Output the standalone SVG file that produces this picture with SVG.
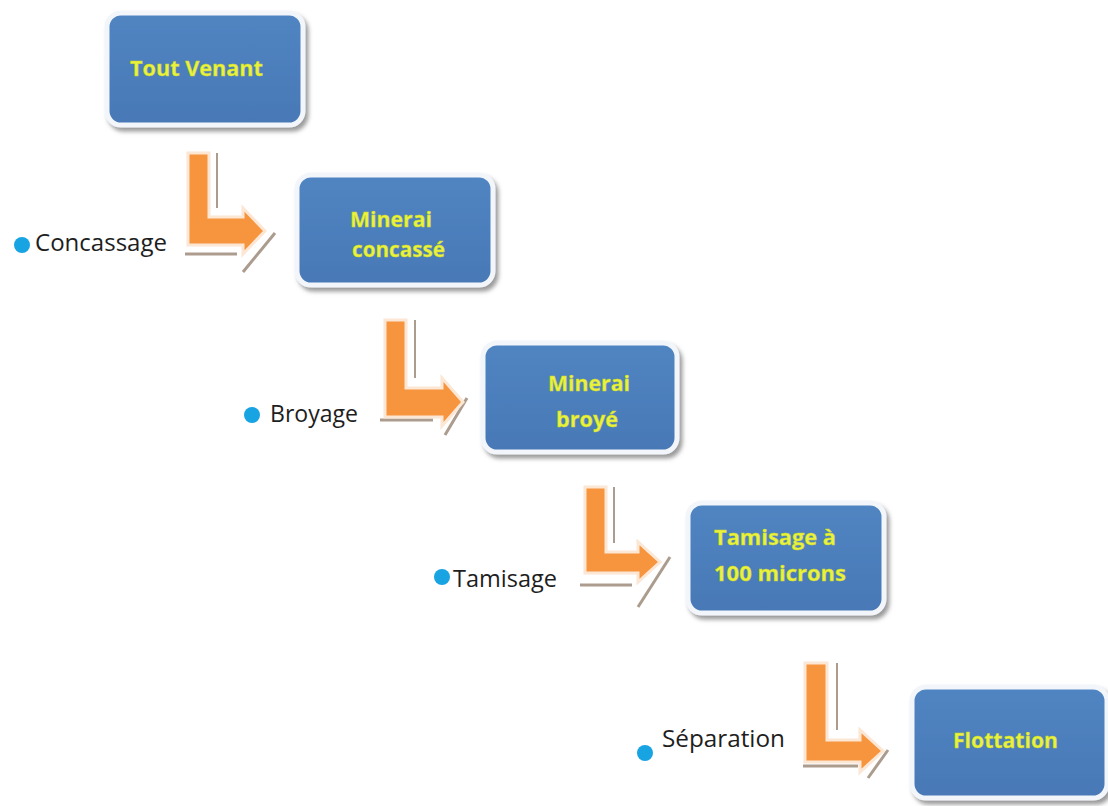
<svg xmlns="http://www.w3.org/2000/svg" width="1108" height="806" viewBox="0 0 1108 806">
<defs>
<filter id="sh" x="-10%" y="-10%" width="125%" height="130%">
<feDropShadow dx="3" dy="4" stdDeviation="2" flood-color="#707070" flood-opacity="0.7"/>
</filter>
<linearGradient id="bg" x1="0" y1="0" x2="0" y2="1">
<stop offset="0" stop-color="#5085c2"/>
<stop offset="1" stop-color="#4878b6"/>
</linearGradient>
</defs>
<style>
.box{fill:url(#bg);stroke:#f2f6fb;stroke-width:5;filter:url(#sh)}
.bt{font-family:"Open Sans","Liberation Sans",sans-serif;font-weight:700;font-size:22px;fill:#e9f23c;stroke:#c9d22a;stroke-width:0.4}
.lb{font-family:"Open Sans","Liberation Sans",sans-serif;font-size:23px;fill:#1e1e1e}
.dot{fill:#18a3e2}
.arr{fill:#f7953f;stroke:#fce6d4;stroke-width:3;stroke-linejoin:miter}
.sd{stroke:#ab9c8e;stroke-width:3;fill:none}
.sd2{stroke:#ab9c8e;stroke-width:2;fill:none}
</style>
<rect width="1108" height="806" fill="#ffffff"/>

<g id="connectors">
<g id="arrow1">
<line class="sd2" x1="217" y1="153" x2="217" y2="208"/>
<line class="sd" x1="185" y1="254" x2="237" y2="254"/>
<line class="sd" x1="275" y1="233" x2="243" y2="272"/>
<polygon class="arr" points="188,153 209,153 209,217 243,217 243,208 265,231 243,254 243,245 188,245"/>
</g>
<g id="arrow2">
<line class="sd2" x1="415" y1="320" x2="415" y2="378"/>
<line class="sd" x1="380" y1="420" x2="433" y2="420"/>
<line class="sd" x1="467" y1="398" x2="445" y2="435"/>
<polygon class="arr" points="385,320 406,320 406,388 442,388 442,378 463,402 442,426 442,417 385,417"/>
</g>
<g id="arrow3">
<line class="sd2" x1="614" y1="487" x2="614" y2="543"/>
<line class="sd" x1="580" y1="585" x2="632" y2="585"/>
<line class="sd" x1="670" y1="557" x2="638" y2="607"/>
<polygon class="arr" points="585,487 606,487 606,552 638,552 638,542 660,562 638,582 638,573 585,573"/>
</g>
<g id="arrow4">
<line class="sd2" x1="837" y1="663" x2="837" y2="730"/>
<line class="sd" x1="803" y1="766" x2="858" y2="766"/>
<line class="sd" x1="888" y1="750" x2="868" y2="778"/>
<polygon class="arr" points="805,663 827,663 827,740 860,740 860,730 883,751 860,772 860,762 805,762"/>
</g>
</g>

<g id="node-tout-venant">
<rect class="box" x="107" y="13" width="196" height="112" rx="14"/>
<text class="bt" x="130" y="76" textLength="133" lengthAdjust="spacingAndGlyphs">Tout Venant</text>
</g>
<g id="node-minerai-concasse">
<rect class="box" x="297" y="175" width="196" height="110" rx="14"/>
<text class="bt" x="350" y="227" textLength="82" lengthAdjust="spacingAndGlyphs">Minerai</text>
<text class="bt" x="352" y="257" textLength="93" lengthAdjust="spacingAndGlyphs">concassé</text>
</g>
<g id="node-minerai-broye">
<rect class="box" x="483" y="343" width="194" height="109" rx="14"/>
<text class="bt" x="548" y="391" textLength="82" lengthAdjust="spacingAndGlyphs">Minerai</text>
<text class="bt" x="556" y="427" textLength="62" lengthAdjust="spacingAndGlyphs">broyé</text>
</g>
<g id="node-tamisage-100">
<rect class="box" x="688" y="503" width="196" height="110" rx="14"/>
<text class="bt" x="714" y="545" textLength="122" lengthAdjust="spacingAndGlyphs">Tamisage à</text>
<text class="bt" x="714" y="581" textLength="132" lengthAdjust="spacingAndGlyphs">100 microns</text>
</g>
<g id="node-flottation">
<rect class="box" x="912" y="687" width="195" height="111" rx="14"/>
<text class="bt" x="953" y="748" textLength="105" lengthAdjust="spacingAndGlyphs">Flottation</text>
</g>

<g id="label-concassage">
<circle class="dot" cx="22" cy="245" r="8"/>
<text class="lb" x="35" y="251" textLength="132" lengthAdjust="spacingAndGlyphs">Concassage</text>
</g>
<g id="label-broyage">
<circle class="dot" cx="252" cy="415" r="8"/>
<text class="lb" x="270" y="422" textLength="88" lengthAdjust="spacingAndGlyphs">Broyage</text>
</g>
<g id="label-tamisage">
<circle class="dot" cx="442" cy="577" r="8"/>
<text class="lb" x="453" y="587" textLength="104" lengthAdjust="spacingAndGlyphs">Tamisage</text>
</g>
<g id="label-separation">
<circle class="dot" cx="645" cy="753" r="8"/>
<text class="lb" x="662" y="747" textLength="123" lengthAdjust="spacingAndGlyphs">Séparation</text>
</g>
</svg>
